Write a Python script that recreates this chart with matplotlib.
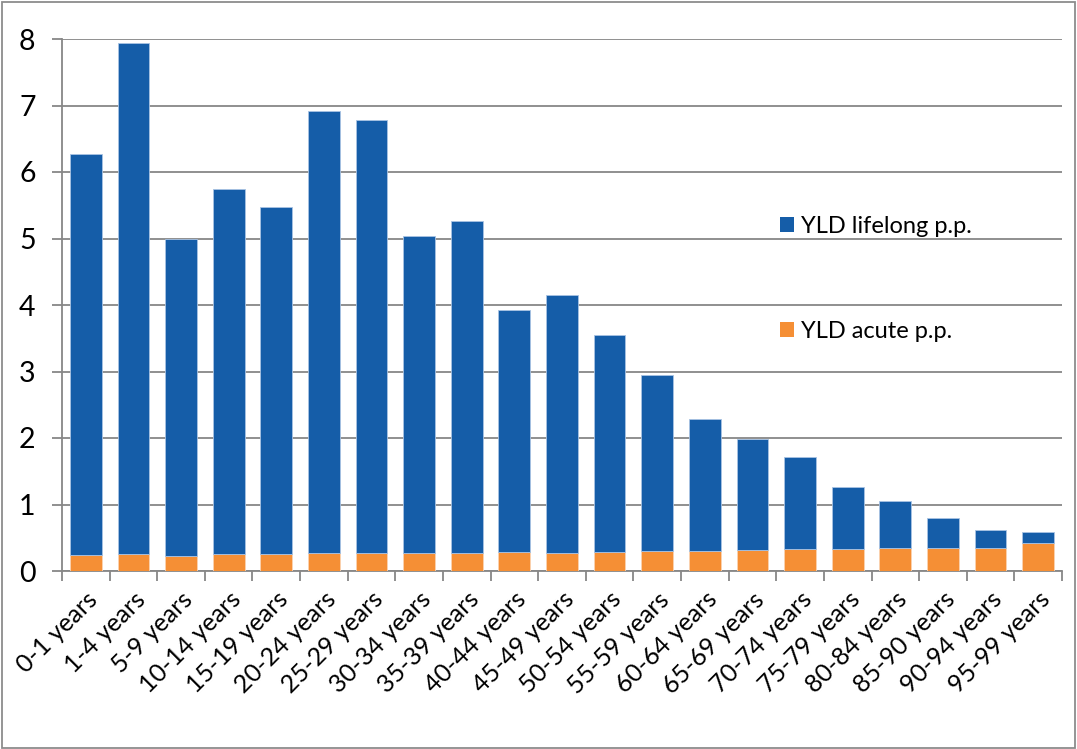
import matplotlib
matplotlib.use("Agg")
import matplotlib.pyplot as plt
import numpy as np
from matplotlib.patches import Patch, Rectangle

plt.rcParams['font.family'] = ['Lato', 'DejaVu Sans']

categories = ["0-1 years", "1-4 years", "5-9 years", "10-14 years", "15-19 years",
              "20-24 years", "25-29 years", "30-34 years", "35-39 years", "40-44 years",
              "45-49 years", "50-54 years", "55-59 years", "60-64 years", "65-69 years",
              "70-74 years", "75-79 years", "80-84 years", "85-90 years", "90-94 years",
              "95-99 years"]
totals = [6.27, 7.94, 5.00, 5.75, 5.47, 6.92, 6.78, 5.04, 5.26, 3.93,
          4.15, 3.55, 2.94, 2.29, 1.99, 1.72, 1.27, 1.05, 0.79, 0.62, 0.59]
yld_acute = [0.24, 0.26, 0.23, 0.26, 0.25, 0.27, 0.27, 0.27, 0.27, 0.28,
             0.27, 0.28, 0.30, 0.30, 0.32, 0.33, 0.33, 0.34, 0.35, 0.34, 0.42]
yld_lifelong = [round(t - a, 3) for t, a in zip(totals, yld_acute)]
yticks = [0, 1, 2, 3, 4, 5, 6, 7, 8]

BLUE = "#155DA8"
ORANGE = "#F58F35"
GRID = "#878787"

W, H = 1077, 749
fig = plt.figure(figsize=(W / 100, H / 100), dpi=100)
fig.patches.append(Rectangle((2 / W, 1.5 / H), (W - 4) / W, (H - 3.5) / H,
                             transform=fig.transFigure, fill=False,
                             edgecolor="#8c8c8c", linewidth=1.3))

left, right, top, bottom = 62, 1062, 39, 571
ax = fig.add_axes([left / W, 1 - bottom / H, (right - left) / W, (bottom - top) / H])

x = np.arange(len(categories))
ax.bar(x, yld_acute, width=0.667, color=ORANGE, edgecolor="#fbd3b0", linewidth=0.6,
       label="YLD acute p.p.", zorder=3)
ax.bar(x, yld_lifelong, bottom=yld_acute, width=0.667, color=BLUE, edgecolor="#a9c3e3",
       linewidth=0.6, label="YLD lifelong p.p.", zorder=3)

ax.set_xlim(-0.5, len(categories) - 0.5)
ax.set_ylim(0, 8)
ax.set_yticks(yticks)
ax.set_yticklabels([str(v) for v in yticks], fontsize=20.5)
ax.yaxis.grid(True, color=GRID, linewidth=1.3, zorder=0)
ax.set_axisbelow(True)

for s in ["top", "right"]:
    ax.spines[s].set_visible(False)
for s in ["left", "bottom"]:
    ax.spines[s].set_color(GRID)
    ax.spines[s].set_linewidth(1.3)

ax.tick_params(axis="y", length=7, width=1.3, color=GRID, pad=12)
ax.set_xticks(np.arange(-0.5, len(categories), 1.0))
ax.set_xticklabels([])
ax.tick_params(axis="x", which="major", length=7, width=1.3, color=GRID)
ax.set_xticks(x, minor=True)
ax.set_xticklabels(categories, minor=True, rotation=45, ha="right", va="top",
                   rotation_mode="anchor", fontsize=18)
ax.tick_params(axis="x", which="minor", length=0, pad=12)

handles = [Patch(facecolor=BLUE, edgecolor="none"), Patch(facecolor=ORANGE, edgecolor="none")]
ax.legend(handles, ["YLD lifelong p.p.", "YLD acute p.p."], loc="upper left",
          bbox_to_anchor=((780 - left) / (right - left), 1 - (216 - top) / (bottom - top)),
          frameon=False, fontsize=17, handlelength=0.6, handleheight=0.6,
          handletextpad=0.3, labelspacing=3.55, borderaxespad=0, borderpad=0)

fig.savefig("out.png", dpi=100)
